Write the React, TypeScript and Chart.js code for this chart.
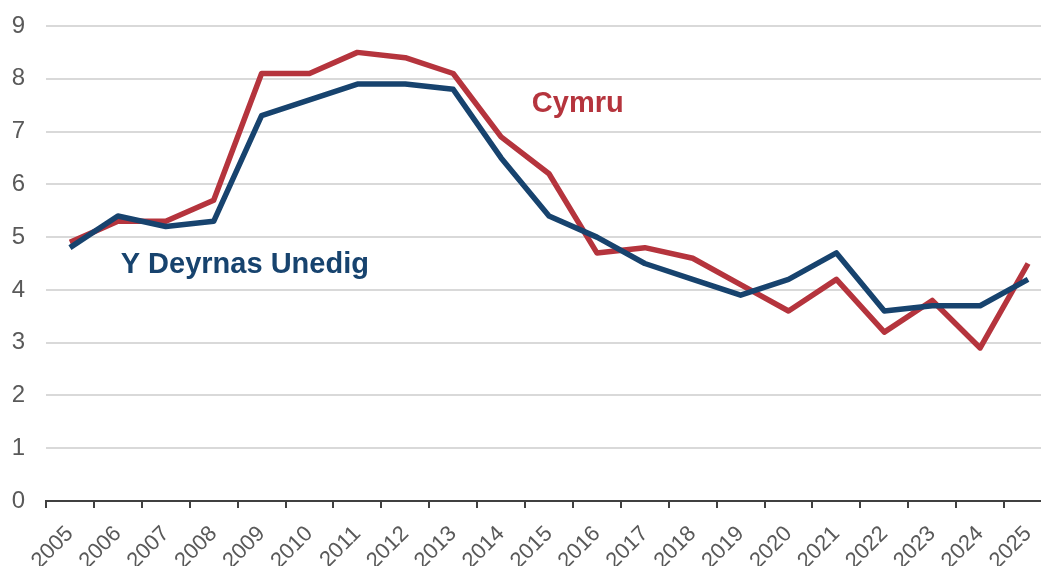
import React, { useEffect, useRef } from "react";
import { Chart, registerables } from "chart.js";

Chart.register(...registerables);

const years = [
  "2005", "2006", "2007", "2008", "2009", "2010", "2011", "2012", "2013", "2014",
  "2015", "2016", "2017", "2018", "2019", "2020", "2021", "2022", "2023", "2024", "2025",
];
const ukValues = [4.8, 5.4, 5.2, 5.3, 7.3, 7.6, 7.9, 7.9, 7.8, 6.5, 5.4, 5.0, 4.5, 4.2, 3.9, 4.2, 4.7, 3.6, 3.7, 3.7, 4.2];
const walesValues = [4.9, 5.3, 5.3, 5.7, 8.1, 8.1, 8.5, 8.4, 8.1, 6.9, 6.2, 4.7, 4.8, 4.6, 4.1, 3.6, 4.2, 3.2, 3.8, 2.9, 4.5];
const yTicks = [0, 1, 2, 3, 4, 5, 6, 7, 8, 9];

const ukLabel = "Y Deyrnas Unedig";
const walesLabel = "Cymru";
const ukColor = "#17436e";
const walesColor = "#b5343d";

// annotation anchor positions in data units (category index, value)
const labelAnchors = [
  { text: walesLabel, x: 10.6, y: 7.52, color: walesColor },
  { text: ukLabel, x: 3.65, y: 4.47, color: ukColor },
];

const FONT = "'Liberation Sans', Arial, sans-serif";

const annotationPlugin = {
  id: "seriesLabels",
  afterDatasetsDraw(chart: any) {
    const { ctx, scales } = chart;
    ctx.save();
    ctx.font = `bold 29px ${FONT}`;
    ctx.textAlign = "center";
    ctx.textBaseline = "middle";
    for (const a of labelAnchors) {
      ctx.fillStyle = a.color;
      ctx.fillText(a.text, scales.x.getPixelForValue(a.x), scales.y.getPixelForValue(a.y));
    }
    ctx.restore();
  },
};

export default function App() {
  const ref = useRef<HTMLCanvasElement | null>(null);
  useEffect(() => {
    if (!ref.current) return;
    const chart = new Chart(ref.current, {
      type: "line",
      data: {
        labels: years,
        datasets: [
          {
            label: ukLabel,
            data: ukValues,
            borderColor: ukColor,
            borderWidth: 5.5,
            pointRadius: 0,
            tension: 0,
            borderJoinStyle: "round",
          },
          {
            label: walesLabel,
            data: walesValues,
            borderColor: walesColor,
            borderWidth: 5.5,
            pointRadius: 0,
            tension: 0,
            borderJoinStyle: "round",
          },
        ],
      },
      options: {
        animation: false,
        responsive: false,
        maintainAspectRatio: false,
        layout: { padding: { top: 26, right: 0, left: 0, bottom: 0 } },
        plugins: { legend: { display: false }, tooltip: { enabled: false } },
        scales: {
          x: {
            offset: true,
            grid: {
              offset: true,
              drawOnChartArea: false,
              drawTicks: true,
              tickLength: 7,
              color: "#404040",
              lineWidth: 2,
            },
            border: { display: true, color: "#404040", width: 2 },
            ticks: {
              color: "#595959",
              font: { family: FONT, size: 22 },
              maxRotation: 45,
              minRotation: 45,
              autoSkip: false,
              padding: 13,
            },
            afterFit(scale: any) {
              scale.height = 65;
              scale.paddingLeft = 0;
              scale.paddingRight = 0;
            },
          },
          y: {
            min: 0,
            max: 9,
            afterBuildTicks(scale: any) {
              scale.ticks = yTicks.map((v) => ({ value: v }));
            },
            grid: { color: "#d9d9d9", lineWidth: 2, drawTicks: false },
            border: { display: false },
            ticks: {
              color: "#595959",
              font: { family: FONT, size: 24 },
              padding: 21,
            },
            afterFit(scale: any) {
              scale.width = 46;
              scale.paddingTop = 0;
              scale.paddingBottom = 0;
            },
          },
        },
      },
      plugins: [annotationPlugin],
    });
    return () => chart.destroy();
  }, []);
  return (
    <div style={{ position: "fixed", left: 0, top: 0, width: 1041, height: 566, overflow: "hidden", background: "#fff" }}>
      <canvas ref={ref} width={1052} height={566} style={{ display: "block" }} />
    </div>
  );
}
